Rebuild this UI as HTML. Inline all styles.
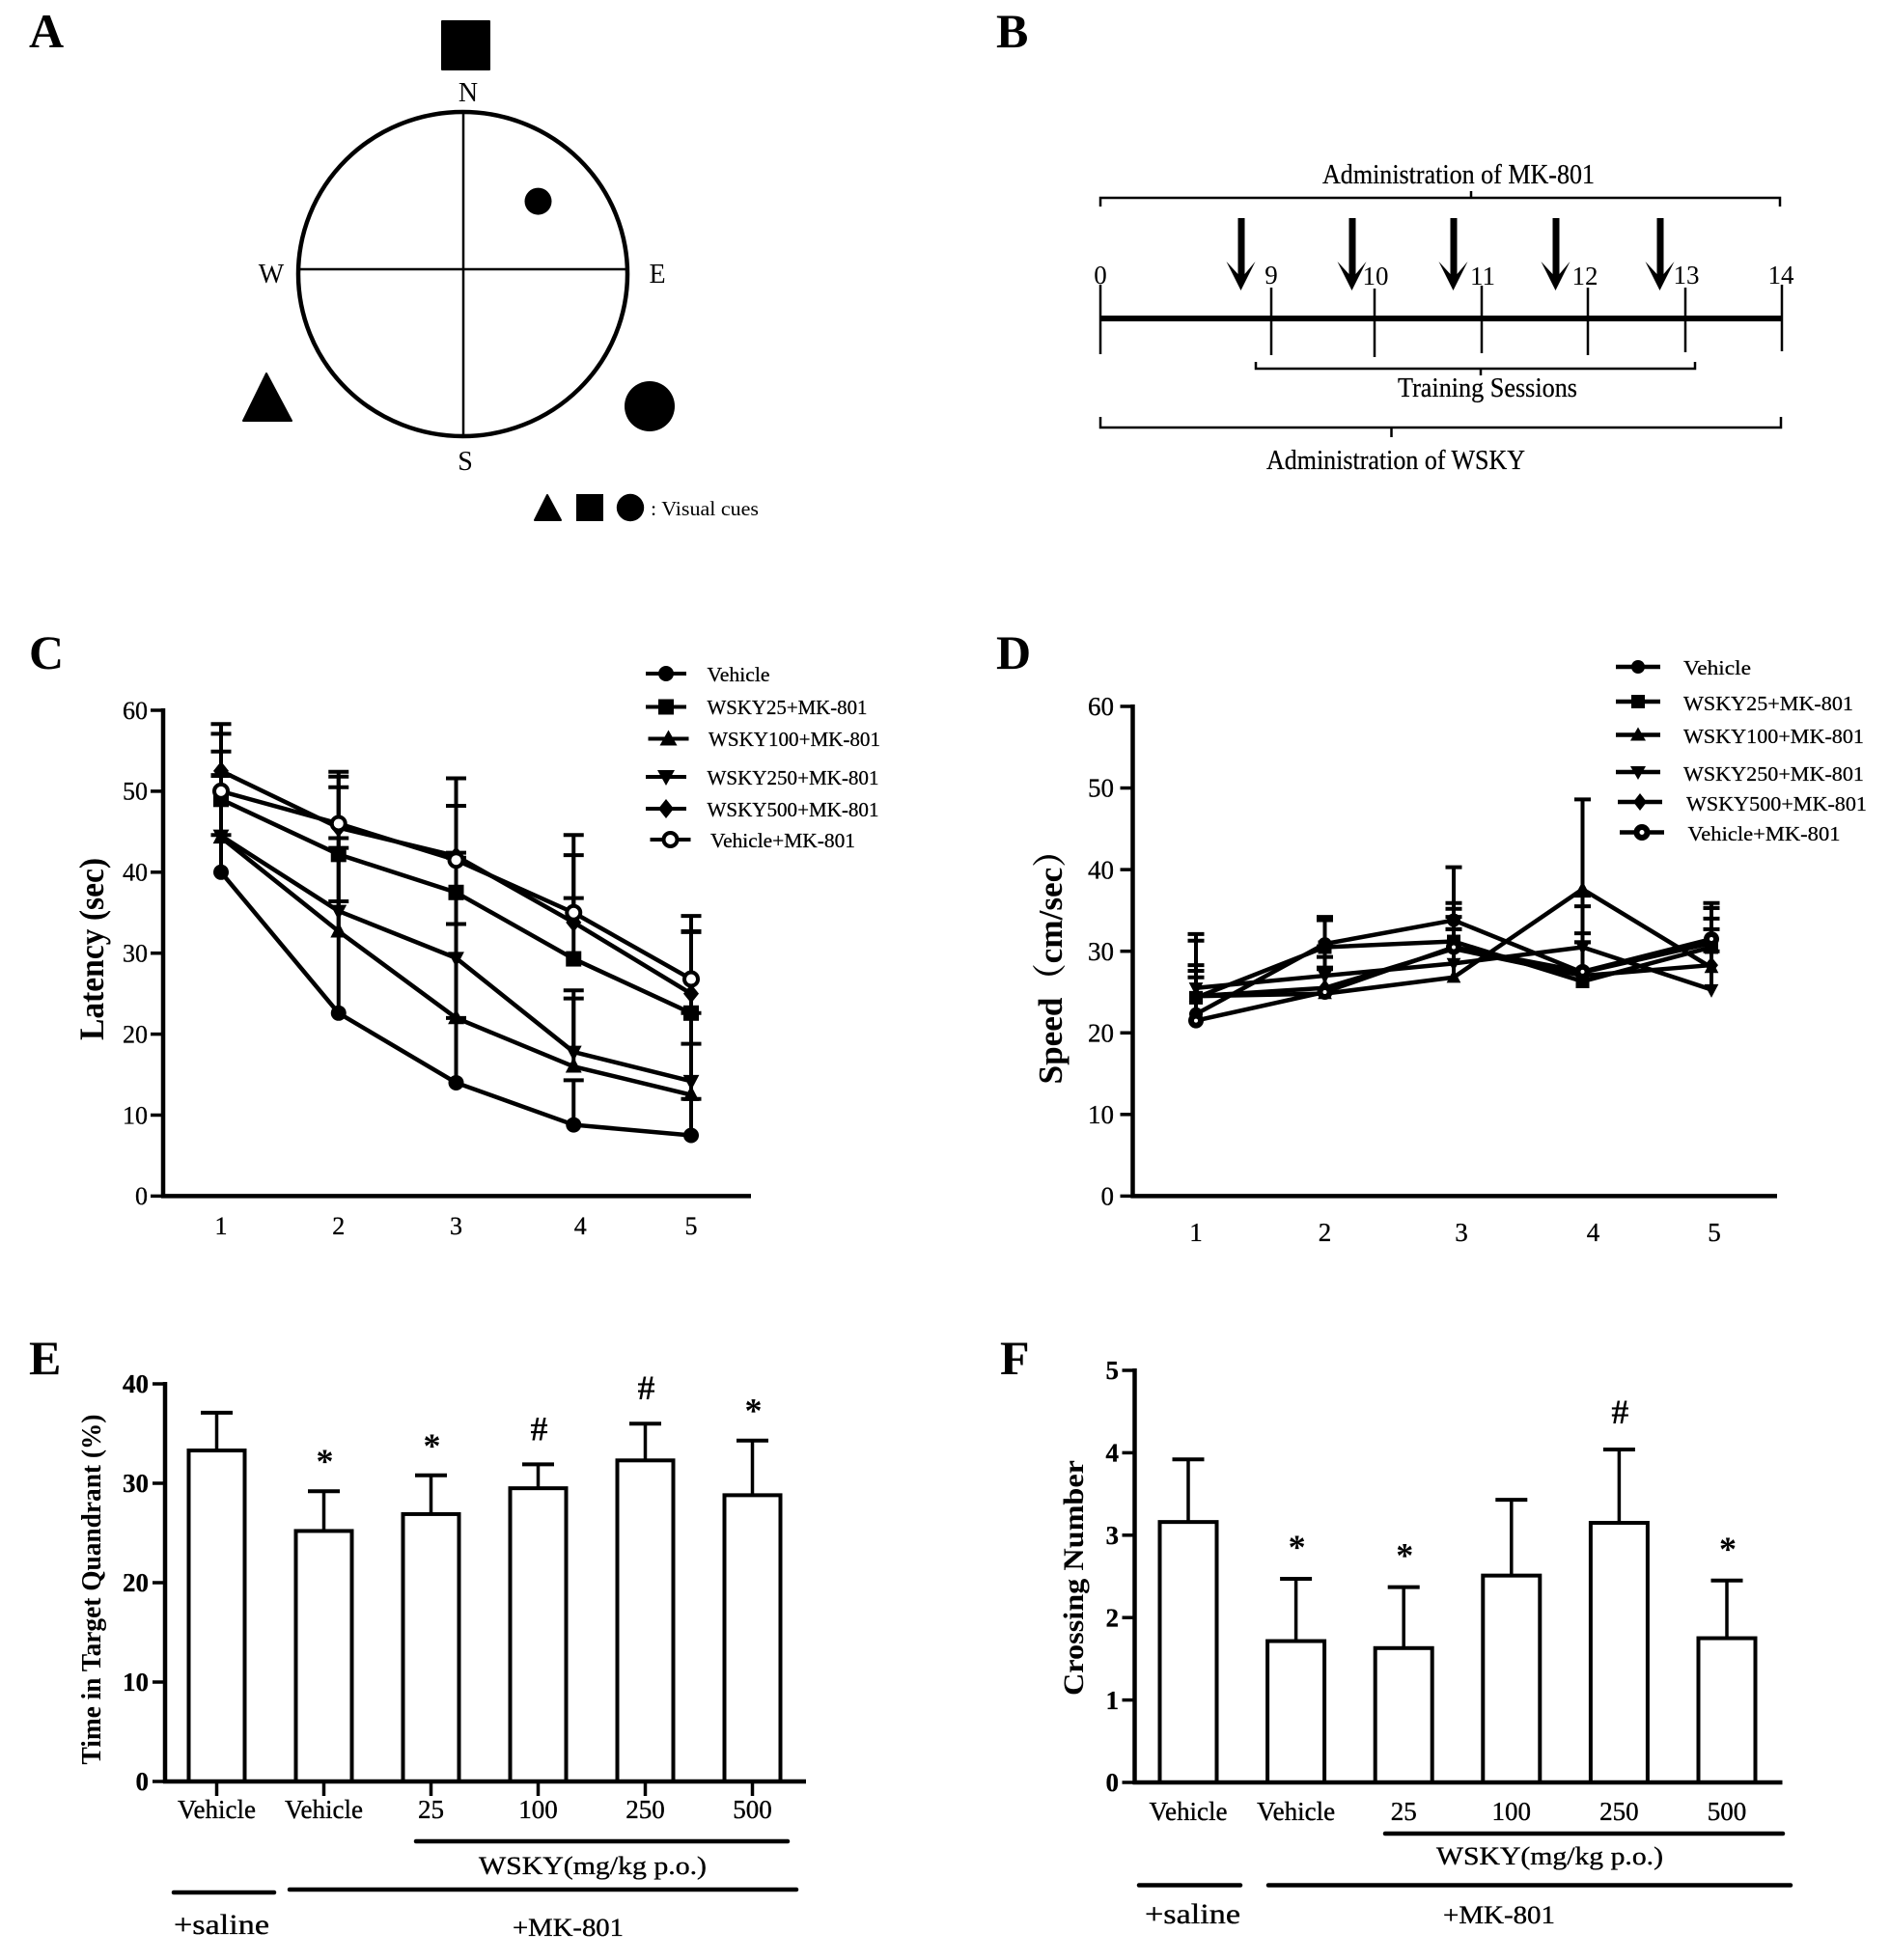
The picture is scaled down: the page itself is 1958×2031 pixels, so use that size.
<!DOCTYPE html>
<html lang="en">
<head>
<meta charset="utf-8">
<title>WSKY Morris water maze figure</title>
<style>
html,body{margin:0;padding:0;background:#fff;}
svg{display:block;}
text{font-family:"Liberation Serif","Noto Serif CJK SC",serif;fill:#000;}
.letter{font-size:50px;font-weight:bold;}
.compass{font-size:28px;text-anchor:middle;}
.b-label{font-size:28px;stroke:#000;stroke-width:.25px;}
.b-num{font-size:27px;text-anchor:middle;}
.leg{font-size:21px;stroke:#000;stroke-width:.25px;}
.title{font-weight:bold;text-anchor:middle;}
.group{font-size:26px;stroke:#000;stroke-width:.35px;}
.ink{stroke:#000;fill:none;}
</style>
</head>
<body>
<svg id="figure" width="1958" height="2031" viewBox="0 0 1958 2031" xmlns="http://www.w3.org/2000/svg">
<rect x="0" y="0" width="1958" height="2031" fill="#fff"/>

<!-- Panel letters -->
<text class="letter" x="30" y="49">A</text>
<text class="letter" x="1032" y="49">B</text>
<text class="letter" x="30" y="693">C</text>
<text class="letter" x="1032" y="693">D</text>
<text class="letter" x="30" y="1424">E</text>
<text class="letter" x="1036" y="1424">F</text>

<!-- Panel A -->
<g>
  <rect x="457" y="21" width="51" height="52" rx="1" fill="#000"/>
  <text class="compass" x="485" y="105">N</text>
  <ellipse cx="479.5" cy="284" rx="170.5" ry="168" fill="#fff" stroke="#000" stroke-width="4.5"/>
  <line x1="480" y1="117" x2="480" y2="452" stroke="#000" stroke-width="2.5"/>
  <line x1="311" y1="279" x2="648" y2="279" stroke="#000" stroke-width="2.5"/>
  <circle cx="557.5" cy="208.6" r="14" fill="#000"/>
  <text class="compass" x="281" y="293">W</text>
  <text class="compass" x="681" y="293">E</text>
  <text class="compass" x="482" y="487">S</text>
  <polygon points="276,387 302,436 252,436" fill="#000" stroke="#000" stroke-width="2" stroke-linejoin="round"/>
  <circle cx="673" cy="421" r="26" fill="#000"/>
  <polygon points="567,513 581,539 554,539" fill="#000" stroke="#000" stroke-width="2" stroke-linejoin="round"/>
  <rect x="597" y="512" width="28" height="28" fill="#000"/>
  <circle cx="653" cy="526" r="14.2" fill="#000"/>
  <text x="674" y="534" font-size="21" textLength="112" lengthAdjust="spacingAndGlyphs">: Visual cues</text>
</g>

<!-- Panel B -->
<g>
  <text class="b-label" x="1370" y="190" textLength="282" lengthAdjust="spacingAndGlyphs">Administration of MK-801</text>
  <path class="ink" stroke-width="2.5" d="M1140 214V205H1844V214M1524 205V198"/>
  <g fill="#000">
    <path d="M1282.5 226h7v58l11-13-15 30-15-30 12 13z"/>
    <path d="M1397.5 226h7v58l11-13-15 30-15-30 12 13z"/>
    <path d="M1502.5 226h7v58l11-13-15 30-15-30 12 13z"/>
    <path d="M1608.5 226h7v58l11-13-15 30-15-30 12 13z"/>
    <path d="M1716.5 226h7v58l11-13-15 30-15-30 12 13z"/>
  </g>
  <text class="b-num" x="1140" y="294">0</text>
  <text class="b-num" x="1317" y="294">9</text>
  <text class="b-num" x="1425" y="295">10</text>
  <text class="b-num" x="1536" y="295">11</text>
  <text class="b-num" x="1642" y="295">12</text>
  <text class="b-num" x="1747" y="294">13</text>
  <text class="b-num" x="1845" y="294">14</text>
  <line x1="1140" y1="330" x2="1846" y2="330" stroke="#000" stroke-width="6"/>
  <path class="ink" stroke-width="2.5" d="M1140 295V367M1317 298V368M1424 299V370M1535 296V366M1645 298V368M1746 298V365M1846 295V364"/>
  <path class="ink" stroke-width="2.5" d="M1301 375V382H1756V375M1534 382V389"/>
  <text class="b-label" x="1448" y="411" textLength="186" lengthAdjust="spacingAndGlyphs">Training Sessions</text>
  <path class="ink" stroke-width="2.5" d="M1140 432V443H1845V432M1441.5 443V453"/>
  <text class="b-label" x="1312" y="486" textLength="268" lengthAdjust="spacingAndGlyphs">Administration of WSKY</text>
</g>

<!-- Chart C -->
<g id="chartC"></g>
<text class="title" font-size="36" transform="translate(107,983.5) rotate(-90)" textLength="189" lengthAdjust="spacingAndGlyphs">Latency (sec)</text>
<g>
  <g transform="translate(690,698)"><line x1="-21" x2="21" stroke="#000" stroke-width="4"/><circle r="8" fill="#000"/></g>
  <text class="leg" x="732.5" y="706" textLength="65" lengthAdjust="spacingAndGlyphs">Vehicle</text>
  <g transform="translate(690,732.5)"><line x1="-21" x2="21" stroke="#000" stroke-width="4"/><rect x="-8" y="-8" width="16" height="16"/></g>
  <text class="leg" x="732.5" y="740" textLength="166" lengthAdjust="spacingAndGlyphs">WSKY25+MK-801</text>
  <g transform="translate(692.5,765.5)"><line x1="-21" x2="21" stroke="#000" stroke-width="4"/><polygon points="0,-9 9,7 -9,7"/></g>
  <text class="leg" x="734" y="773" textLength="178" lengthAdjust="spacingAndGlyphs">WSKY100+MK-801</text>
  <g transform="translate(690,805)"><line x1="-21" x2="21" stroke="#000" stroke-width="4"/><polygon points="0,9 9,-7 -9,-7"/></g>
  <text class="leg" x="732.5" y="813" textLength="178" lengthAdjust="spacingAndGlyphs">WSKY250+MK-801</text>
  <g transform="translate(690,838)"><line x1="-21" x2="21" stroke="#000" stroke-width="4"/><polygon points="0,-10 8,0 0,10 -8,0"/></g>
  <text class="leg" x="732.5" y="846" textLength="178" lengthAdjust="spacingAndGlyphs">WSKY500+MK-801</text>
  <g transform="translate(694.5,870)"><line x1="-21" x2="21" stroke="#000" stroke-width="4"/><circle r="7" fill="#fff" stroke="#000" stroke-width="4"/></g>
  <text class="leg" x="736" y="878" textLength="150" lengthAdjust="spacingAndGlyphs">Vehicle+MK-801</text>
</g>

<!-- Chart D -->
<g id="chartD"></g>
<text class="title" font-size="35" transform="translate(1100,993.5) rotate(-90)" textLength="260" lengthAdjust="spacingAndGlyphs">Speed（cm/sec）</text>
<g>
  <g transform="translate(1697,691)"><line x1="-23" x2="23" stroke="#000" stroke-width="4.5"/><circle r="7" fill="#000"/></g>
  <text class="leg" x="1744" y="699" textLength="70" lengthAdjust="spacingAndGlyphs">Vehicle</text>
  <g transform="translate(1697,727)"><line x1="-23" x2="23" stroke="#000" stroke-width="4.5"/><rect x="-7" y="-7" width="14" height="14"/></g>
  <text class="leg" x="1744" y="736" textLength="176" lengthAdjust="spacingAndGlyphs">WSKY25+MK-801</text>
  <g transform="translate(1697,761.5)"><line x1="-23" x2="23" stroke="#000" stroke-width="4.5"/><polygon points="0,-8 8,6 -8,6"/></g>
  <text class="leg" x="1744" y="770" textLength="187" lengthAdjust="spacingAndGlyphs">WSKY100+MK-801</text>
  <g transform="translate(1697,800)"><line x1="-23" x2="23" stroke="#000" stroke-width="4.5"/><polygon points="0,8 8,-6 -8,-6"/></g>
  <text class="leg" x="1744" y="809" textLength="187" lengthAdjust="spacingAndGlyphs">WSKY250+MK-801</text>
  <g transform="translate(1699,831)"><line x1="-23" x2="23" stroke="#000" stroke-width="4.5"/><polygon points="0,-9 7,0 0,9 -7,0"/></g>
  <text class="leg" x="1747" y="840" textLength="187" lengthAdjust="spacingAndGlyphs">WSKY500+MK-801</text>
  <g transform="translate(1701,862.5)"><line x1="-23" x2="23" stroke="#000" stroke-width="4.5"/><circle r="5.5" fill="#fff" stroke="#000" stroke-width="6"/></g>
  <text class="leg" x="1748.5" y="871" textLength="158" lengthAdjust="spacingAndGlyphs">Vehicle+MK-801</text>
</g>

<!-- Chart E -->
<g id="chartE"></g>
<text class="title" font-size="28" transform="translate(104,1647) rotate(-90)" textLength="363" lengthAdjust="spacingAndGlyphs">Time in Target Quandrant (%)</text>
<line x1="431" y1="1908" x2="816" y2="1908" stroke="#000" stroke-width="4.5" stroke-linecap="round"/>
<text class="group" x="496" y="1942" textLength="236" lengthAdjust="spacingAndGlyphs">WSKY(mg/kg p.o.)</text>
<line x1="180" y1="1961" x2="284" y2="1961" stroke="#000" stroke-width="4.5" stroke-linecap="round"/>
<line x1="300" y1="1958" x2="825" y2="1958" stroke="#000" stroke-width="4.5" stroke-linecap="round"/>
<text class="group" x="180" y="2004" textLength="99" lengthAdjust="spacingAndGlyphs" style="font-size:30px">+saline</text>
<text class="group" x="531" y="2006" textLength="115" lengthAdjust="spacingAndGlyphs">+MK-801</text>

<!-- Chart F -->
<g id="chartF"></g>
<text class="title" font-size="30" transform="translate(1122,1635) rotate(-90)" textLength="244" lengthAdjust="spacingAndGlyphs">Crossing Number</text>
<line x1="1435" y1="1900" x2="1847" y2="1900" stroke="#000" stroke-width="4.5" stroke-linecap="round"/>
<text class="group" x="1488" y="1932" textLength="235" lengthAdjust="spacingAndGlyphs">WSKY(mg/kg p.o.)</text>
<line x1="1180" y1="1953.5" x2="1285" y2="1953.5" stroke="#000" stroke-width="4.5" stroke-linecap="round"/>
<line x1="1314" y1="1953.5" x2="1855" y2="1953.5" stroke="#000" stroke-width="4.5" stroke-linecap="round"/>
<text class="group" x="1186" y="1993" textLength="99" lengthAdjust="spacingAndGlyphs" style="font-size:30px">+saline</text>
<text class="group" x="1495" y="1993" textLength="116" lengthAdjust="spacingAndGlyphs">+MK-801</text>
</svg>

<script>
// ---- Chart C: escape latency ----
const latencyDays = ['1','2','3','4','5'];
const latencyTicks = [0,10,20,30,40,50,60];
const latencySeriesNames = ['vehicle','wsky25','wsky100','wsky250','wsky500','vehicle-mk801'];
const latencyVehicle   = [40.0,22.6,14.0,8.8,7.5];
const latencyWsky25    = [49.0,42.2,37.5,29.3,22.6];
const latencyWsky100   = [44.3,32.7,22.0,16.0,12.5];
const latencyWsky250   = [44.5,35.2,29.4,17.8,14.2];
const latencyWsky500   = [52.5,45.5,42.0,33.8,25.0];
const latencyVehicleMk = [50.0,46.0,41.5,35.0,26.8];
const latencyVehicleTop   = [44.6,36.4,22.0,14.3,12.0];
const latencyWsky25Top    = [54.9,50.5,42.4,36.8,32.6];
const latencyWsky100Top   = [51.9,43.0,33.6,24.4,18.8];
const latencyWsky250Top   = [52.0,44.2,41.8,25.4,22.6];
const latencyWsky500Top   = [58.3,52.4,51.6,44.6,32.7];
const latencyVehicleMkTop = [57.1,51.8,48.2,42.1,34.6];

// ---- Chart D: swim speed ----
const speedDays = ['1','2','3','4','5'];
const speedTicks = [0,10,20,30,40,50,60];
const speedVehicle   = [22.3,30.9,33.8,27.4,31.0];
const speedWsky25    = [24.3,30.5,31.2,26.3,30.5];
const speedWsky100   = [24.5,24.8,26.8,37.6,28.0];
const speedWsky250   = [25.5,27.0,28.5,30.5,25.3];
const speedWsky500   = [24.5,25.5,30.3,27.0,28.3];
const speedVehicleMk = [21.5,25.0,30.5,27.5,31.5];
const speedVehicleTop   = [27.6,34.2,40.3,31.1,35.9];
const speedWsky25Top    = [31.3,33.8,35.9,32.2,35.3];
const speedWsky100Top   = [28.3,27.8,32.7,48.6,32.7];
const speedWsky250Top   = [32.1,29.3,32.7,36.8,30.0];
const speedWsky500Top   = [27.6,28.0,34.2,35.5,34.0];
const speedVehicleMkTop = [26.8,30.6,35.2,31.1,35.3];

// ---- Chart E: time in target quadrant ----
const quadrantGroups = ['Vehicle','Vehicle','25','100','250','500'];
const quadrantTicks = [0,10,20,30,40];
const quadrantMeans = [33.3,25.2,26.9,29.5,32.3,28.8];
const quadrantTops  = [37.1,29.2,30.8,31.9,36.0,34.3];
const quadrantSig   = ['','*','*','#','#','*'];

// ---- Chart F: crossing number ----
const crossingGroups = ['Vehicle','Vehicle','25','100','250','500'];
const crossingTicks = [0,1,2,3,4,5];
const crossingMeans = [3.16,1.715,1.63,2.51,3.15,1.75];
const crossingTops  = [3.92,2.47,2.37,3.43,4.04,2.45];
const crossingSig   = ['','*','*','','#','*'];

const NS = 'http://www.w3.org/2000/svg';
function add(parent, tag, attrs, name) {
  const el = document.createElementNS(NS, tag);
  for (const k in attrs) el.setAttribute(k, attrs[k]);
  
  
  parent.appendChild(el);
  return el;
}
function label(parent, x, y, str, size, weight, anchor, name) {
  const el = add(parent, 'text', {x:x, y:y, 'font-size':size, 'font-weight':weight, 'text-anchor':anchor}, name);
  el.textContent = str;
  return el;
}
function marker(g, kind, x, y, s, ringStroke, name) {
  if (kind === 'circle') return add(g,'circle',{cx:x,cy:y,r:s,fill:'#000'},name);
  if (kind === 'ring') return add(g,'circle',{cx:x,cy:y,r:s+1-ringStroke/2,fill:'#fff',stroke:'#000','stroke-width':ringStroke},name);
  if (kind === 'square') return add(g,'rect',{x:x-s,y:y-s,width:2*s,height:2*s,fill:'#000'},name);
  let pts;
  if (kind === 'up') pts = [[x,y-s*1.2],[x+s*1.05,y+s*.8],[x-s*1.05,y+s*.8]];
  if (kind === 'down') pts = [[x,y+s*1.2],[x+s*1.05,y-s*.8],[x-s*1.05,y-s*.8]];
  if (kind === 'diamond') pts = [[x,y-s*1.25],[x+s,y],[x,y+s*1.25],[x-s,y]];
  return add(g,'polygon',{points:pts.map(p=>p.join(',')).join(' '),fill:'#000'},name);
}
function drawAxes(g, cfg) {
  add(g,'line',{x1:cfg.x0,y1:cfg.y(cfg.ticks[cfg.ticks.length-1])-2,x2:cfg.x0,y2:cfg.y(0)+2,stroke:'#000','stroke-width':4.5},'y-axis');
  add(g,'line',{x1:cfg.x0-2,y1:cfg.y(0),x2:cfg.xEnd,y2:cfg.y(0),stroke:'#000','stroke-width':4.5},'x-axis');
  cfg.ticks.forEach(t => {
    add(g,'line',{x1:cfg.x0-13,y1:cfg.y(t),x2:cfg.x0,y2:cfg.y(t),stroke:'#000','stroke-width':3.5},'y-tick');
    const t1 = label(g,cfg.x0-cfg.labelGap,cfg.y(t)+cfg.tickSize*.34,String(t),cfg.tickSize,cfg.tickWeight,'end','y-tick-label');
    t1.setAttribute('style','stroke:#000;stroke-width:.3px');
  });
}

function drawLineChart(id, cfg, days, series) {
  const g = document.getElementById(id);
  drawAxes(g, cfg);
  days.forEach((d,i) => {
    const t2 = label(g,cfg.x(i)+cfg.labelNudge(i),cfg.labelY,d,cfg.tickSize,'normal','middle','x-tick-label');
    t2.setAttribute('style','stroke:#000;stroke-width:.3px');
  });
  series.forEach(s => {
    s.values.forEach((v,i) => {
      add(g,'line',{x1:cfg.x(i),y1:cfg.y(v),x2:cfg.x(i),y2:cfg.y(s.tops[i]),stroke:'#000','stroke-width':4},'error-bar-'+s.name);
      add(g,'line',{x1:cfg.x(i)-cfg.cap,y1:cfg.y(s.tops[i]),x2:cfg.x(i)+cfg.cap,y2:cfg.y(s.tops[i]),stroke:'#000','stroke-width':4},'error-cap-'+s.name);
    });
  });
  series.forEach(s => {
    const pts = s.values.map((v,i) => cfg.x(i)+','+cfg.y(v)).join(' ');
    add(g,'polyline',{points:pts,fill:'none',stroke:'#000','stroke-width':4.5,'stroke-linejoin':'round'},'line-'+s.name);
  });
  series.forEach(s => {
    s.values.forEach((v,i) => { marker(g,s.kind,cfg.x(i),cfg.y(v),cfg.size,cfg.ringStroke,'point-'+s.name); });
  });
}

function drawBarChart(id, cfg, groups, means, tops, sig) {
  const g = document.getElementById(id);
  groups.forEach((name,i) => {
    const cx = cfg.x(i);
    add(g,'line',{x1:cx,y1:cfg.y(means[i]),x2:cx,y2:cfg.y(tops[i]),stroke:'#000','stroke-width':3.5},'error-bar');
    add(g,'line',{x1:cx-16.5,y1:cfg.y(tops[i]),x2:cx+16.5,y2:cfg.y(tops[i]),stroke:'#000','stroke-width':4},'error-cap');
    add(g,'rect',{x:cx-cfg.bar/2,y:cfg.y(means[i]),width:cfg.bar,height:cfg.y(0)-cfg.y(means[i]),fill:'#fff',stroke:'#000','stroke-width':4},'bar-'+i);
    if (cfg.xTick) add(g,'line',{x1:cx,y1:cfg.y(0),x2:cx,y2:cfg.y(0)+15,stroke:'#000','stroke-width':3.5},'x-tick');
    label(g,cx,cfg.labelY,name,27,'normal','middle','x-tick-label').setAttribute('style','stroke:#000;stroke-width:.35px');
    if (sig[i]) {
      const centre = cfg.y(tops[i]) - cfg.sigGap;
      label(g,cx+1,centre+(sig[i]==='*'?17:11),sig[i],36,'bold','middle','significance-mark');
    }
  });
  drawAxes(g, cfg);
}

const xC = i => 229 + 121.75*i;
const yC = v => 1239.4 - 8.39*v;
drawLineChart('chartC', {
  x:xC, y:yC, x0:169, xEnd:778, ticks:latencyTicks, tickSize:26, tickWeight:'normal', labelGap:16,
  labelY:1279, cap:10.5, size:8, ringStroke:4, labelNudge:i => (i===3 ? 7 : 0)
}, latencyDays, [
  {name:latencySeriesNames[0],kind:'circle',values:latencyVehicle,tops:latencyVehicleTop},
  {name:latencySeriesNames[1],kind:'square',values:latencyWsky25,tops:latencyWsky25Top},
  {name:latencySeriesNames[2],kind:'up',values:latencyWsky100,tops:latencyWsky100Top},
  {name:latencySeriesNames[3],kind:'down',values:latencyWsky250,tops:latencyWsky250Top},
  {name:latencySeriesNames[4],kind:'diamond',values:latencyWsky500,tops:latencyWsky500Top},
  {name:latencySeriesNames[5],kind:'ring',values:latencyVehicleMk,tops:latencyVehicleMkTop}
]);

const xD = i => 1239 + 133.5*i;
const yD = v => 1239.4 - 8.457*v;
drawLineChart('chartD', {
  x:xD, y:yD, x0:1173.5, xEnd:1841, ticks:speedTicks, tickSize:27, tickWeight:'normal', labelGap:19.5,
  labelY:1286, cap:8.5, size:7, ringStroke:6, labelNudge:i => [0,0,8,11,3][i]
}, speedDays, [
  {name:'vehicle',kind:'circle',values:speedVehicle,tops:speedVehicleTop},
  {name:'wsky25',kind:'square',values:speedWsky25,tops:speedWsky25Top},
  {name:'wsky100',kind:'up',values:speedWsky100,tops:speedWsky100Top},
  {name:'wsky250',kind:'down',values:speedWsky250,tops:speedWsky250Top},
  {name:'wsky500',kind:'diamond',values:speedWsky500,tops:speedWsky500Top},
  {name:'vehicle-mk801',kind:'ring',values:speedVehicleMk,tops:speedVehicleMkTop}
]);

const xE = i => 224.5 + 111*i;
const yE = v => 1846 - 10.3*v;
drawBarChart('chartE', {
  x:xE, y:yE, x0:171, xEnd:835, ticks:quadrantTicks, tickSize:27, tickWeight:'bold', labelGap:17,
  bar:58, xTick:true, labelY:1884, sigGap:36
}, quadrantGroups, quadrantMeans, quadrantTops, quadrantSig);

const xF = i => 1231 + 111.6*i;
const yF = v => 1847 - 85.4*v;
drawBarChart('chartF', {
  x:xF, y:yF, x0:1175.5, xEnd:1846.5, ticks:crossingTicks, tickSize:27, tickWeight:'bold', labelGap:16.5,
  bar:59, xTick:false, labelY:1886, sigGap:38
}, crossingGroups, crossingMeans, crossingTops, crossingSig);
</script>
</body>
</html>
